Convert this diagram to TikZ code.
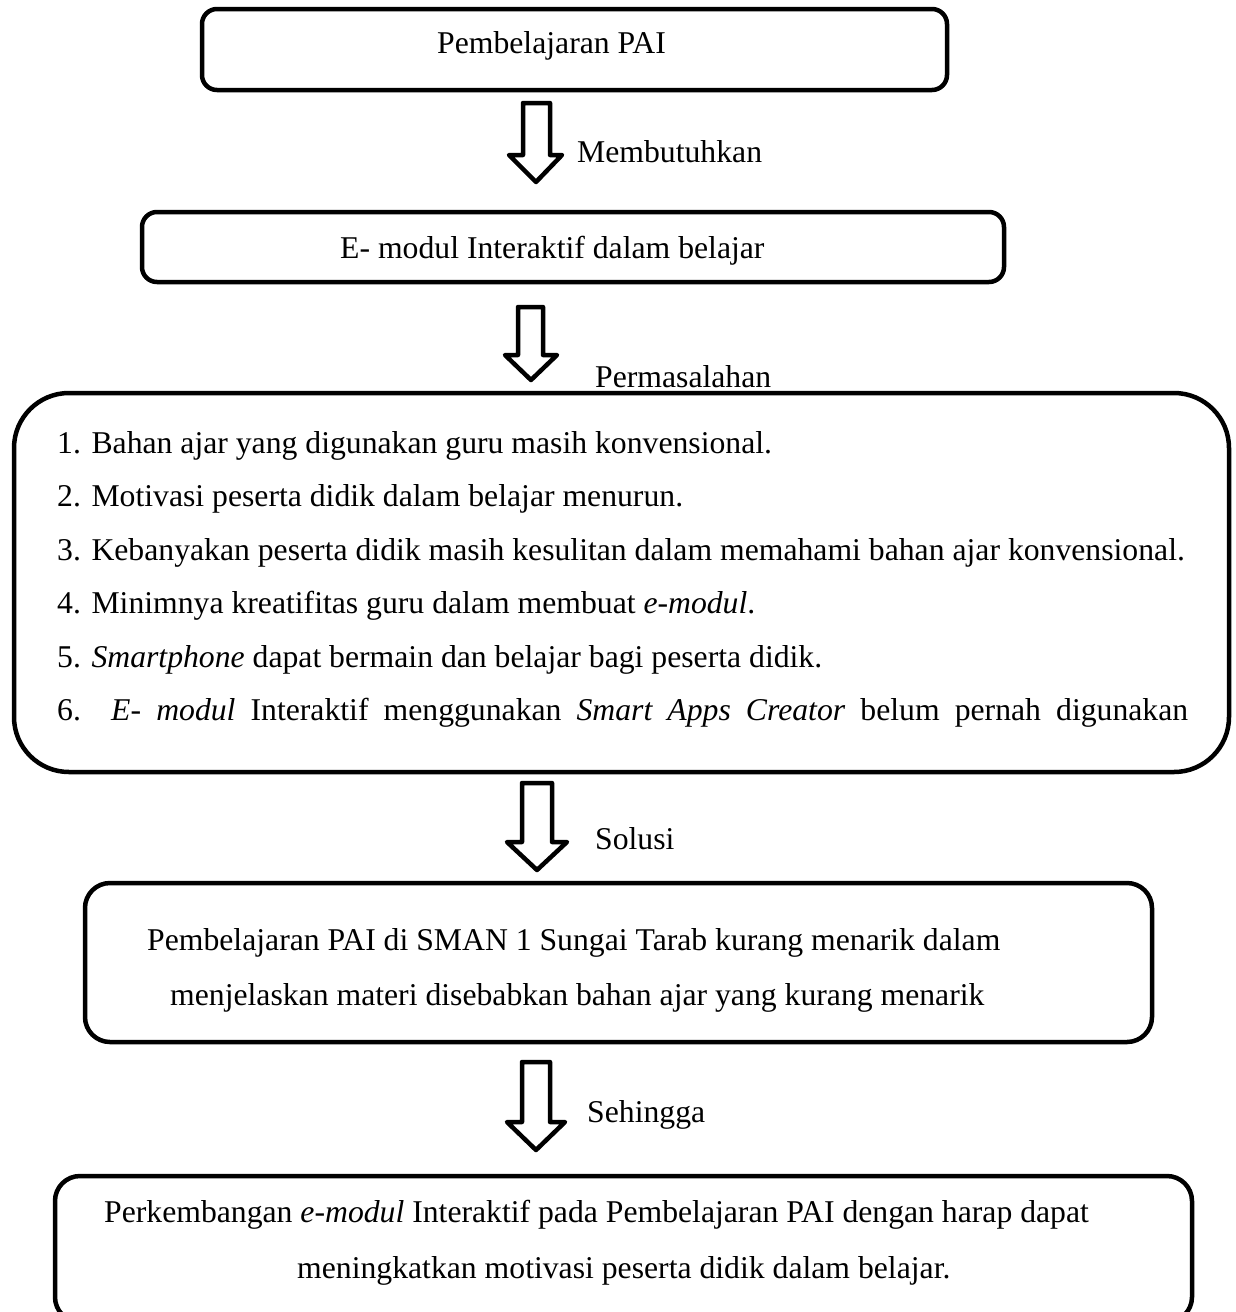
\documentclass[tikz,border=0pt]{standalone}
\usepackage{fontspec}
\setmainfont{Liberation Serif}
\begin{document}
\begin{tikzpicture}[x=1pt,y=-1pt,
  box/.style={draw=black,line width=4.5pt,rounded corners=15pt,inner sep=0pt,minimum width=#1},
  txt/.style={anchor=base west,inner sep=0pt,font=\fontsize{31.7}{38}\selectfont},
  barrow/.style={draw=black,line width=4.5pt,line join=round,fill=white}]
\useasboundingbox (0,0) rectangle (1236,1312);
% boxes
\node[box=745pt,minimum height=81pt] (b1) at (574.5,49.5) {};
\node[box=862pt,minimum height=70pt] (b2) at (573,247) {};
\node[box=1215pt,minimum height=379pt,rounded corners=55pt] (b3) at (621.5,582.5) {};
\node[box=1067pt,minimum height=159pt,rounded corners=25pt] (b4) at (618.5,962.5) {};
\node[box=1137pt,minimum height=146pt,rounded corners=25pt] (b5) at (623.5,1249) {};
% texts
\node[txt] (t1) at (437,53) {Pembelajaran PAI};
\node[txt] (t2) at (340,258) {E- modul Interaktif dalam belajar};
\node[txt] (l1) at (57,453) {1. Bahan ajar yang digunakan guru masih konvensional.};
\node[txt] (l2) at (57,506) {2. Motivasi peserta didik dalam belajar menurun.};
\node[txt] (l3) at (57,560) {3. Kebanyakan peserta didik masih kesulitan dalam memahami bahan ajar konvensional.};
\node[txt] (l4) at (57,613) {4. Minimnya kreatifitas guru dalam membuat \textit{e-modul}.};
\node[txt] (l5) at (57,667) {5. \textit{Smartphone} dapat bermain dan belajar bagi peserta didik.};
\node[txt] (l6) at (57,720) {\makebox[1131pt][s]{6.\ \ \textit{E- modul} Interaktif menggunakan \textit{Smart Apps Creator} belum pernah digunakan}};
\node[txt] (t4a) at (147,950) {Pembelajaran PAI di SMAN 1 Sungai Tarab kurang menarik dalam};
\node[txt] (t4b) at (170,1005) {menjelaskan materi disebabkan bahan ajar yang kurang menarik};
\node[txt] (t5a) at (104,1222) {Perkembangan \textit{e-modul} Interaktif pada Pembelajaran PAI dengan harap dapat};
\node[txt] (t5b) at (297,1278) {meningkatkan motivasi peserta didik dalam belajar.};
% arrow labels
\node[txt] (a1) at (577,162) {Membutuhkan};
\node[txt] (a2) at (595,387) {Permasalahan};
\node[txt] (a3) at (595,849) {Solusi};
\node[txt] (a4) at (587,1122) {Sehingga};
% block arrows
\draw[barrow] (523,103) -- (550,103) -- (550,155) -- (562,155) -- (536,182) -- (509,155) -- (523,155) -- cycle;
\draw[barrow] (518,307) -- (543,307) -- (543,355) -- (557,355) -- (531,380) -- (505,355) -- (518,355) -- cycle;
\draw[barrow] (522,783) -- (552,783) -- (552,842) -- (567,842) -- (537,870) -- (507,842) -- (522,842) -- cycle;
\draw[barrow] (522,1062) -- (550,1062) -- (550,1122) -- (565,1122) -- (536,1150) -- (507,1122) -- (522,1122) -- cycle;
\end{tikzpicture}
\end{document}
